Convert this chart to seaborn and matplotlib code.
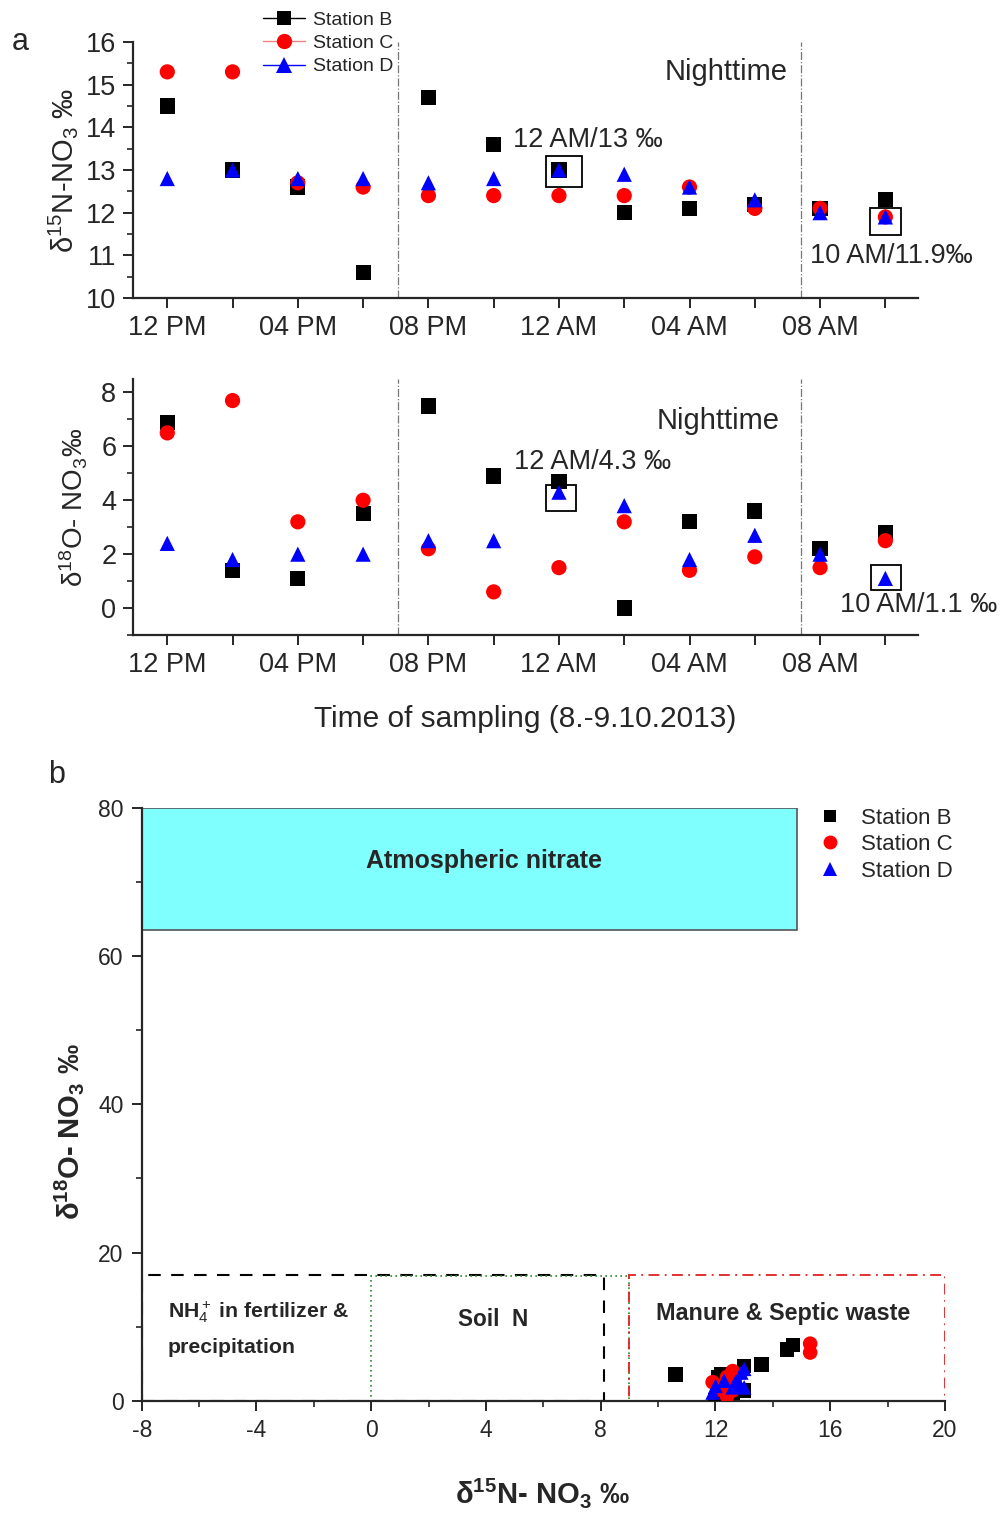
import numpy as np
import pandas as pd
import matplotlib
matplotlib.use("Agg")
import matplotlib.pyplot as plt
import seaborn as sns
from matplotlib.lines import Line2D
from matplotlib.patches import Rectangle
from matplotlib.ticker import MultipleLocator

# ---------------- data ----------------
hours = [0, 2, 4, 6, 8, 10, 12, 14, 16, 18, 20, 22]  # hours after 12 PM, 8.10.2013
tick_labels = ["12 PM", "", "04 PM", "", "08 PM", "", "12 AM", "", "04 AM", "", "08 AM", ""]
stations = ["Station B", "Station C", "Station D"]

n15_B = [14.5, 13.0, 12.6, 10.6, 14.7, 13.6, 13.0, 12.0, 12.1, 12.2, 12.1, 12.3]
n15_C = [15.3, 15.3, 12.7, 12.6, 12.4, 12.4, 12.4, 12.4, 12.6, 12.1, 12.1, 11.9]
n15_D = [12.8, 13.0, 12.8, 12.8, 12.7, 12.8, 13.0, 12.9, 12.6, 12.3, 12.0, 11.9]

o18_B = [6.9, 1.4, 1.1, 3.5, 7.5, 4.9, 4.7, 0.0, 3.2, 3.6, 2.2, 2.8]
o18_C = [6.5, 7.7, 3.2, 4.0, 2.2, 0.6, 1.5, 3.2, 1.4, 1.9, 1.5, 2.5]
o18_D = [2.4, 1.8, 2.0, 2.0, 2.5, 2.5, 4.3, 3.8, 1.8, 2.7, 2.0, 1.1]

night_start, night_end = 7.07, 19.42

# source boxes for panel b: (x0, x1, y0, y1)
atm_box = (-8, 14.85, 63.5, 80)
nh4_box = (-8, 8.1, 0, 17)
soil_box = (0, 9, 0, 16.8)
manure_box = (9, 20, 0, 16.9)

# ---------------- styling ----------------
sns.set_style("ticks")
plt.rcParams["font.family"] = ["Liberation Sans", "DejaVu Sans"]
plt.rcParams["mathtext.fontset"] = "custom"
plt.rcParams["mathtext.rm"] = "Liberation Sans"
plt.rcParams["mathtext.it"] = "Liberation Sans:italic"
plt.rcParams["mathtext.bf"] = "Liberation Sans:bold"
plt.rcParams["axes.unicode_minus"] = False

palette = {"Station B": "#000000", "Station C": "#ff0000", "Station D": "#0000ff"}
markers = {"Station B": "s", "Station C": "o", "Station D": "^"}

df = pd.DataFrame({
    "hour": hours * 3,
    "station": np.repeat(stations, len(hours)),
    "n15": n15_B + n15_C + n15_D,
    "o18": o18_B + o18_C + o18_D,
})

fig = plt.figure(figsize=(10.02, 15.24), dpi=100)
W, H = 1002, 1524

def axpos(l, r, t, b):
    return [l / W, 1 - b / H, (r - l) / W, (b - t) / H]

ax1 = fig.add_axes(axpos(133, 918, 42, 298))
ax2 = fig.add_axes(axpos(133, 918, 379, 635))
ax3 = fig.add_axes(axpos(141.7, 945, 808, 1400.7))

for ax, col in [(ax1, "n15"), (ax2, "o18")]:
    sns.scatterplot(data=df, x="hour", y=col, hue="station", style="station",
                    palette=palette, markers=markers, s=120, linewidth=0,
                    ax=ax, legend=False, zorder=3)
    ax.set_xlim(-1.05, 23.0)
    ax.set_xticks(hours)
    ax.set_xticklabels(tick_labels)
    for xv in (night_start, night_end):
        ax.axvline(xv, color="#777777", lw=0.9, ls="-.", zorder=1)
    ax.spines["top"].set_visible(False)
    ax.spines["right"].set_visible(False)
    for s in ("left", "bottom"):
        ax.spines[s].set_linewidth(1.6)
    ax.tick_params(axis="both", which="major", direction="out", length=7, width=1.4,
                   labelsize=19.5, pad=5)
    ax.tick_params(axis="y", which="minor", direction="out", length=4, width=1.2)
    ax.set_xlabel("")

ax1.set_ylim(10, 16)
ax1.yaxis.set_major_locator(MultipleLocator(1))
ax1.yaxis.set_minor_locator(MultipleLocator(0.5))
ax1.set_ylabel("δ$^{15}$N-NO$_3$ ‰", fontsize=21, labelpad=4)

ax2.set_ylim(-1, 8.5)
ax2.yaxis.set_major_locator(MultipleLocator(2))
ax2.yaxis.set_minor_locator(MultipleLocator(1))
ax2.set_ylabel("δ$^{18}$O- NO$_3$‰", fontsize=20, labelpad=8)
ax2.set_xlabel("Time of sampling (8.-9.10.2013)", fontsize=21.5, labelpad=20)

# annotations panel a
ax1.text(15.23, 15.29, "Nighttime", fontsize=21, va="center", ha="left")
ax1.text(10.6, 13.7, "12 AM/13 ‰", fontsize=19.5, va="center", ha="left")
ax1.text(19.7, 10.98, "10 AM/11.9‰", fontsize=19.5, va="center", ha="left")
ax1.add_patch(Rectangle((11.6, 12.6), 1.1, 0.73, fill=False, ec="black", lw=1.3, zorder=4))
ax1.add_patch(Rectangle((21.52, 11.47), 0.96, 0.63, fill=False, ec="black", lw=1.3, zorder=4))

ax2.text(15.0, 6.94, "Nighttime", fontsize=21, va="center", ha="left")
ax2.text(10.63, 5.41, "12 AM/4.3 ‰", fontsize=19.5, va="center", ha="left")
ax2.text(20.6, 0.1, "10 AM/1.1 ‰", fontsize=19.5, va="center", ha="left")
ax2.add_patch(Rectangle((11.6, 3.6), 0.92, 0.98, fill=False, ec="black", lw=1.3, zorder=4))
ax2.add_patch(Rectangle((21.57, 0.66), 0.92, 0.95, fill=False, ec="black", lw=1.3, zorder=4))

# legend panel a
handles_a = [
    Line2D([0], [0], color="black", lw=1.0, marker="s", markersize=10, markeredgewidth=0),
    Line2D([0], [0], color="#f08080", lw=1.0, marker="o", markerfacecolor="#ff0000",
           markersize=11, markeredgewidth=0),
    Line2D([0], [0], color="#0000ff", lw=1.0, marker="^", markersize=11, markeredgewidth=0),
]
fig.legend(handles_a, stations, loc="upper left", bbox_to_anchor=(249 / W, 1 - (-2) / H),
           frameon=False, fontsize=14, handlelength=2.2, handletextpad=0.4,
           labelspacing=0.28, borderpad=0.2)

# ---------------- panel b ----------------
def add_box(ax, box, **kw):
    x0, x1, y0, y1 = box
    ax.add_patch(Rectangle((x0, y0), x1 - x0, y1 - y0, **kw))

add_box(ax3, atm_box, facecolor="#80ffff", edgecolor="#555555", lw=1.2, zorder=1)
add_box(ax3, nh4_box, fill=False, edgecolor="black", lw=1.5, ls=(0, (6, 5)), zorder=2)
add_box(ax3, soil_box, fill=False, edgecolor="#2e8b2e", lw=1.2, ls=(0, (1, 2)), zorder=2)
add_box(ax3, manure_box, fill=False, edgecolor="#e02020", lw=1.3, ls=(0, (6, 3, 1, 3)), zorder=2)

sns.scatterplot(data=df, x="n15", y="o18", hue="station", style="station",
                palette=palette, markers=markers, s=110, linewidth=0,
                ax=ax3, legend=False, zorder=3)

ax3.set_xlim(-8, 20)
ax3.set_ylim(0, 80)
ax3.xaxis.set_major_locator(MultipleLocator(4))
ax3.xaxis.set_minor_locator(MultipleLocator(2))
ax3.yaxis.set_major_locator(MultipleLocator(20))
ax3.yaxis.set_minor_locator(MultipleLocator(10))
ax3.spines["top"].set_visible(False)
ax3.spines["right"].set_visible(False)
for s in ("left", "bottom"):
    ax3.spines[s].set_linewidth(1.6)
ax3.tick_params(axis="both", which="major", direction="out", length=7, width=1.4,
                labelsize=16.5, pad=6)
ax3.tick_params(axis="both", which="minor", direction="out", length=4, width=1.2)

ax3.set_xlabel(r"δ$^{\mathbf{15}}$N- NO$_{\mathbf{3}}$ ‰", fontsize=21, fontweight="bold")
ax3.xaxis.set_label_coords((543 - 141.7) / 803.3, -(1476 - 1400.7) / 592.7)
ax3.set_ylabel(r"δ$^{\mathbf{18}}$O- NO$_{\mathbf{3}}$ ‰", fontsize=21, fontweight="bold")
ax3.yaxis.set_label_coords(-(141.7 - 86) / 803.3, (1400.7 - 1132) / 592.7)

ax3.text(3.93, 72.9, "Atmospheric nitrate", fontsize=18, fontweight="bold", ha="center", va="center")
ax3.text(-7.1, 12.0, "NH$_4^+$ in fertilizer &", fontsize=15.3, fontweight="bold", ha="left", va="center")
ax3.text(-7.1, 7.2, "precipitation", fontsize=15.3, fontweight="bold", ha="left", va="center")
ax3.text(4.25, 10.9, "Soil  N", fontsize=16.3, fontweight="bold", ha="center", va="center")
ax3.text(14.35, 11.8, "Manure & Septic waste", fontsize=16.8, fontweight="bold", ha="center", va="center")

handles_b = [
    Line2D([0], [0], ls="none", color="black", marker="s", markersize=9, markeredgewidth=0),
    Line2D([0], [0], ls="none", color="#ff0000", marker="o", markersize=10, markeredgewidth=0),
    Line2D([0], [0], ls="none", color="#0000ff", marker="^", markersize=10, markeredgewidth=0),
]
fig.legend(handles_b, stations, loc="upper left", bbox_to_anchor=(803 / W, 1 - 792 / H),
           frameon=False, fontsize=16, handlelength=1.0, handletextpad=0.9,
           labelspacing=0.25, borderpad=0.2)

fig.text(12 / W, 1 - 42 / H, "a", fontsize=22, va="center", ha="left")
fig.text(48 / W, 1 - 775 / H, "b", fontsize=22, va="center", ha="left")

fig.savefig("out.png", dpi=100)
